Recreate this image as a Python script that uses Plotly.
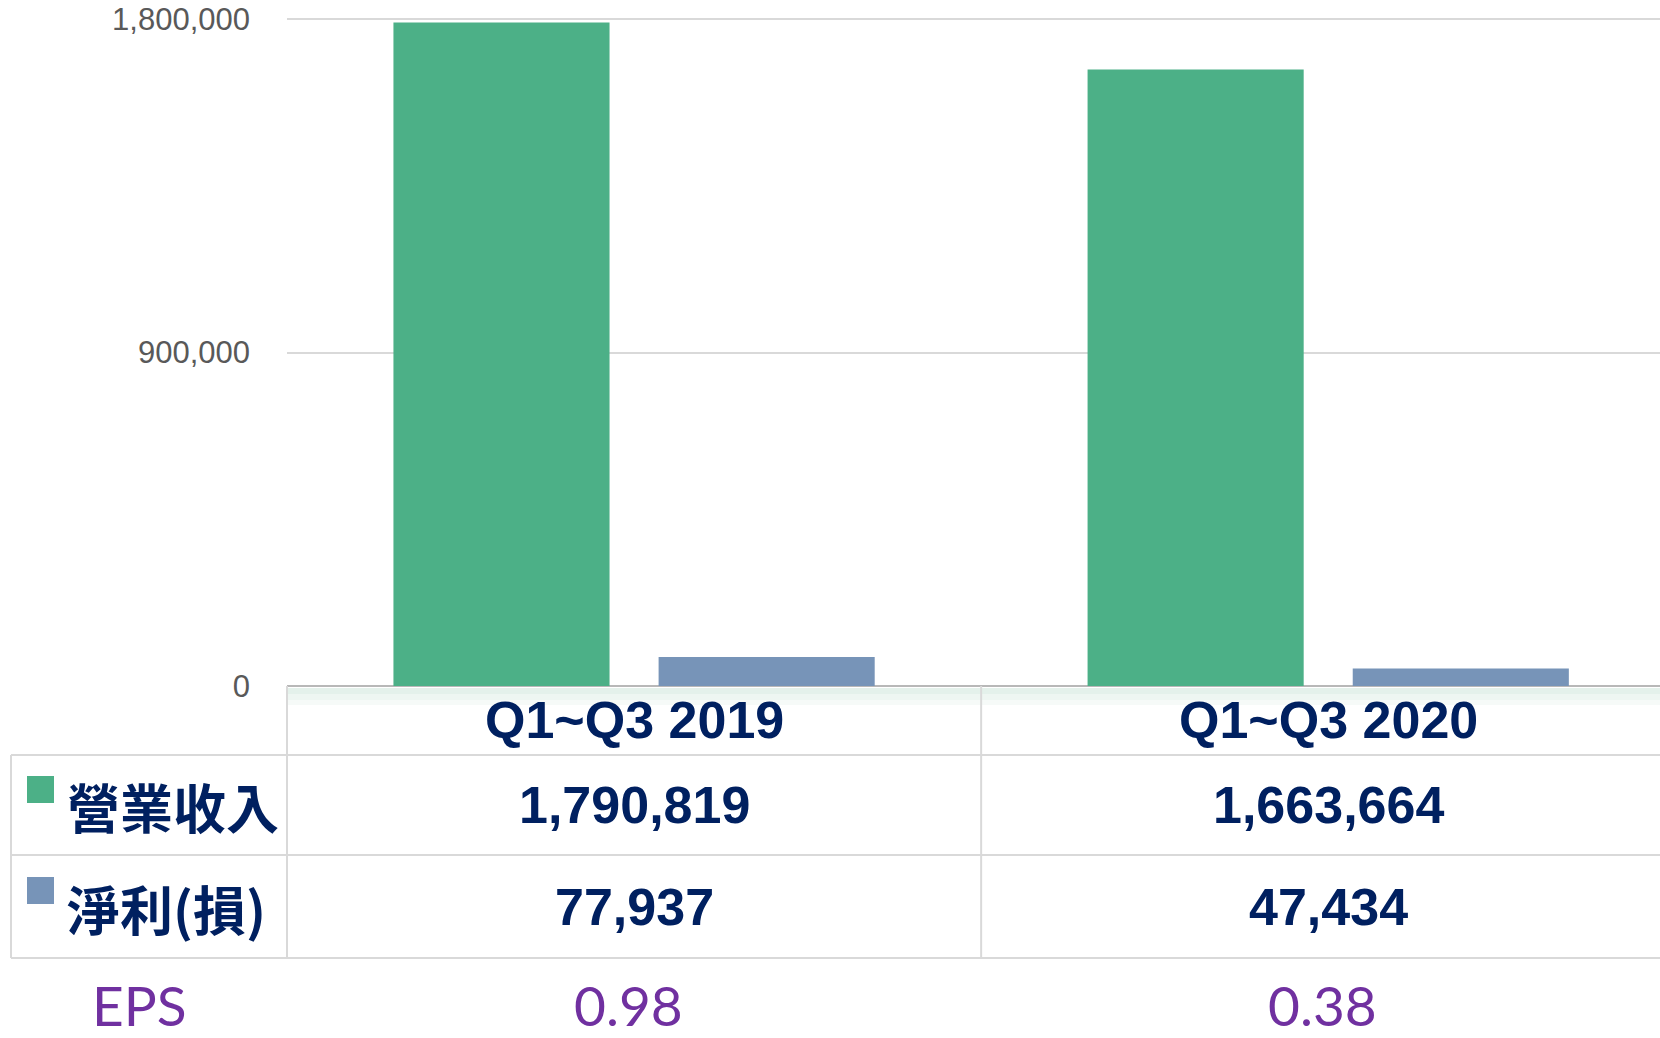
import plotly.graph_objects as go

# ---- data ----
categories = ["Q1~Q3 2019", "Q1~Q3 2020"]
revenue = [1790819, 1663664]
net_income = [77937, 47434]
eps = [0.98, 0.38]
series_names = ["營業收入", "淨利(損)"]
eps_label = "EPS"
y_ticks = [0, 900000, 1800000]
y_tick_text = ["0", "900,000", "1,800,000"]
y_max = 1800000

# ---- layout constants (page pixels; body margin removed via post_script) ----
W, H = 1660, 1038
PLOT_LEFT, PLOT_TOP, PLOT_BOTTOM = 287, 19, 686
EXTRA_TOP = 4  # px of headroom so the top gridline is drawn
L = PLOT_LEFT
T = PLOT_TOP - EXTRA_TOP
B = H - PLOT_BOTTOM
PH = H - T - B
PW = W - L
y_top = y_max * PH / (PLOT_BOTTOM - PLOT_TOP)


def py(ypix):
    return (PLOT_BOTTOM - ypix) / PH


def px(xpix):
    return (xpix - PLOT_LEFT) / PW


GREEN = "#4cb087"
BLUE = "#7794b8"
NAVY = "#002060"
PURPLE = "#7030a0"
GRID = "#d9d9d9"
TABLE = "#d9d9d9"

fig = go.Figure()
fig.add_bar(x=categories, y=revenue, name=series_names[0],
            marker=dict(color=GREEN, line=dict(width=0)))
fig.add_bar(x=categories, y=net_income, name=series_names[1],
            marker=dict(color=BLUE, line=dict(width=0)))

shapes = []
# soft shade under axis line
for (a, b, op) in [(688, 694, 0.55), (694, 700, 0.35), (700, 705, 0.18)]:
    shapes.append(dict(type="rect", xref="paper", yref="paper", x0=0, x1=1,
                       y0=py(b), y1=py(a), fillcolor=f"rgba(205,230,218,{op})",
                       line=dict(width=0), layer="below"))
# table horizontal lines
for yp in [755, 855, 958]:
    shapes.append(dict(type="line", xref="paper", yref="paper", x0=px(11), x1=1,
                       y0=py(yp), y1=py(yp), line=dict(color=TABLE, width=2)))
# table vertical lines
shapes.append(dict(type="line", xref="paper", yref="paper", x0=px(11), x1=px(11),
                   y0=py(755), y1=py(958), line=dict(color=TABLE, width=2)))
shapes.append(dict(type="line", xref="paper", yref="paper", x0=0, x1=0,
                   y0=py(686), y1=py(958), line=dict(color=TABLE, width=2)))
shapes.append(dict(type="line", xref="x", yref="paper", x0=0.5, x1=0.5,
                   y0=py(686), y1=py(958), line=dict(color=TABLE, width=2)))
# legend swatches
for (yt, yb), col in [((776, 803), GREEN), ((877, 904), BLUE)]:
    shapes.append(dict(type="rect", xref="paper", yref="paper", x0=px(27), x1=px(54),
                       y0=py(yb), y1=py(yt), fillcolor=col, line=dict(width=0)))

annotations = []
num_font = dict(family="Arial, Liberation Sans, sans-serif", size=52, color=NAVY, weight="bold")
eps_font = dict(family="Lato, sans-serif", size=55, color=PURPLE)
for i, cat in enumerate(categories):
    annotations.append(dict(x=cat, xref="x", y=py(720), yref="paper", text=cat,
                            showarrow=False, font=num_font, xanchor="center", yanchor="middle"))
    annotations.append(dict(x=cat, xref="x", y=py(805), yref="paper", text=f"{revenue[i]:,}",
                            showarrow=False, font=num_font, xanchor="center", yanchor="middle"))
    annotations.append(dict(x=cat, xref="x", y=py(907), yref="paper", text=f"{net_income[i]:,}",
                            showarrow=False, font=num_font, xanchor="center", yanchor="middle"))
    annotations.append(dict(x=cat, xref="x", y=py(1005), yref="paper", text=f"{eps[i]:.2f}",
                            showarrow=False, xshift=-6, font=eps_font,
                            xanchor="center", yanchor="middle"))
cjk_font = dict(family="Noto Sans CJK TC, sans-serif", size=53, color=NAVY, weight="bold")
annotations.append(dict(x=px(65), xref="paper", y=py(806), yref="paper", text=series_names[0],
                        showarrow=False, font=cjk_font, xanchor="left", yanchor="middle"))
annotations.append(dict(x=px(65), xref="paper", y=py(908), yref="paper", text=series_names[1],
                        showarrow=False, font=cjk_font, xanchor="left", yanchor="middle"))
annotations.append(dict(x=px(139), xref="paper", y=py(1005), yref="paper", text=eps_label,
                        showarrow=False, font=eps_font, xanchor="center", yanchor="middle"))

fig.update_layout(
    width=W, height=H,
    margin=dict(l=L, r=0, t=T, b=B, pad=0, autoexpand=False),
    paper_bgcolor="white", plot_bgcolor="white",
    barmode="group", bargap=0.236, bargroupgap=0.185,
    showlegend=False,
    shapes=shapes, annotations=annotations,
    xaxis=dict(type="category", range=[-0.5, 1.478], showticklabels=False,
               showgrid=False, zeroline=False, showline=False, ticks="",
               automargin=False),
    yaxis=dict(range=[0, y_top], tickvals=y_ticks, ticktext=y_tick_text,
               showgrid=True, gridcolor=GRID, gridwidth=2,
               zeroline=True, zerolinecolor="#b8b8b8", zerolinewidth=2,
               showline=False, ticks="", ticklabelstandoff=36,
               ticklabeloverflow="allow", automargin=False,
               tickfont=dict(family="Arial, Liberation Sans, sans-serif", size=31, color="#595959")),
)

fig.write_html("out.html",
               config={"displayModeBar": False},
               post_script="document.body.style.margin='0';document.body.style.overflow='hidden';")
